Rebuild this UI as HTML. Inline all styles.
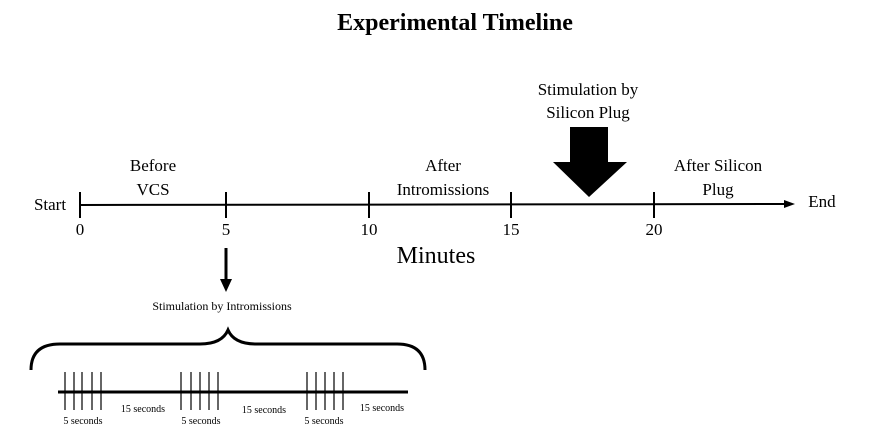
<!DOCTYPE html>
<html><head><style>body{margin:0;background:#fff}</style></head><body>
<svg width="873" height="437" viewBox="0 0 873 437" xmlns="http://www.w3.org/2000/svg" font-family="Liberation Serif, serif" fill="#000">
<text x="455" y="30" font-size="24" font-weight="bold" text-anchor="middle">Experimental Timeline</text>
<line x1="80" y1="205" x2="785" y2="204" stroke="#000" stroke-width="2"/>
<polygon points="795,204 784,200 784,208"/>
<g stroke="#000" stroke-width="2">
<line x1="80" y1="192" x2="80" y2="218"/><line x1="226" y1="192" x2="226" y2="218"/>
<line x1="369" y1="192" x2="369" y2="218"/><line x1="511" y1="192" x2="511" y2="218"/>
<line x1="654" y1="192" x2="654" y2="218"/>
</g>
<g font-size="17" text-anchor="middle">
<text x="80" y="235">0</text><text x="226" y="235">5</text><text x="369" y="235">10</text><text x="511" y="235">15</text><text x="654" y="235">20</text>
<text x="50" y="210">Start</text><text x="822" y="207">End</text>
<text x="153" y="171">Before</text><text x="153" y="195">VCS</text>
<text x="443" y="171">After</text><text x="443" y="195">Intromissions</text>
<text x="718" y="171">After Silicon</text><text x="718" y="195">Plug</text>
<text x="588" y="95">Stimulation by</text><text x="588" y="118">Silicon Plug</text>
<text x="222" y="310" font-size="12">Stimulation by Intromissions</text>
</g>
<text x="436" y="263" font-size="24" text-anchor="middle">Minutes</text>
<polygon points="570,127 608,127 608,162 627,162 589,197 553,162 570,162"/>
<line x1="226" y1="248" x2="226" y2="280" stroke="#000" stroke-width="3"/>
<polygon points="220,279 232,279 226,292"/>
<path d="M31,370 Q31,344 60,344 L200,344 Q222,344 228,330 Q234,344 256,344 L397,344 Q425,344 425,370" fill="none" stroke="#000" stroke-width="3"/>
<line x1="58" y1="392" x2="408" y2="392" stroke="#000" stroke-width="3"/>
<g stroke="#000" stroke-width="1.2">
<line x1="65" y1="372" x2="65" y2="410"/><line x1="74" y1="372" x2="74" y2="410"/><line x1="82" y1="372" x2="82" y2="410"/><line x1="92" y1="372" x2="92" y2="410"/><line x1="101" y1="372" x2="101" y2="410"/>
<line x1="181" y1="372" x2="181" y2="410"/><line x1="191" y1="372" x2="191" y2="410"/><line x1="200" y1="372" x2="200" y2="410"/><line x1="209" y1="372" x2="209" y2="410"/><line x1="218" y1="372" x2="218" y2="410"/>
<line x1="307" y1="372" x2="307" y2="410"/><line x1="316" y1="372" x2="316" y2="410"/><line x1="325" y1="372" x2="325" y2="410"/><line x1="334" y1="372" x2="334" y2="410"/><line x1="343" y1="372" x2="343" y2="410"/>
</g>
<g font-size="10" text-anchor="middle">
<text x="83" y="424">5 seconds</text><text x="201" y="424">5 seconds</text><text x="324" y="424">5 seconds</text>
<text x="143" y="412">15 seconds</text><text x="264" y="413">15 seconds</text><text x="382" y="411">15 seconds</text>
</g>
</svg>
</body></html>
